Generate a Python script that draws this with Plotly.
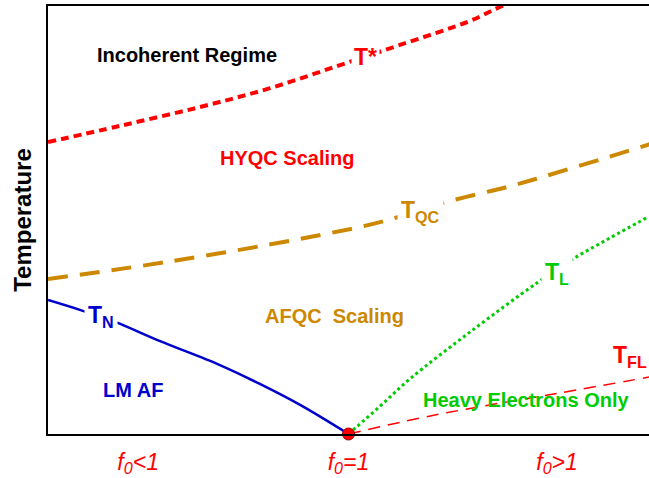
import plotly.graph_objects as go

# ---- data (x: 0..2 with f0=1 at x=1; y: temperature 0..100) ----
tstar_x = [0.0, 0.240, 0.506, 0.739, 0.972, 1.171, 1.404, 1.504, 1.604]
tstar_y = [68.2, 72.0, 76.4, 80.8, 86.2, 90.9, 96.5, 99.8, 102.8]

tqc_x = [0.0, 0.396, 0.839, 1.105, 1.314, 1.527, 1.614, 1.993, 2.037]
tqc_y = [36.2, 40.2, 45.6, 49.5, 54.0, 57.7, 59.4, 67.5, 68.5]

tn_x = [0.0, 0.106, 0.223, 0.373, 0.572, 0.705, 0.839, 1.0]
tn_y = [31.3, 29.0, 26.2, 21.7, 16.1, 11.7, 6.8, 0.0]

tl_x = [1.0, 1.105, 1.205, 1.404, 1.627, 1.747, 1.870, 1.997]
tl_y = [0.0, 6.5, 12.9, 23.8, 35.3, 40.9, 45.8, 50.7]

tfl_x = [1.0, 1.236, 1.414, 1.704, 2.0]
tfl_y = [0.0, 3.7, 6.1, 9.6, 13.3]

qcp_x = [1.0]
qcp_y = [0.0]

tick_vals = [0.3, 1.0, 1.694]
tick_text = ["f<sub>0</sub><1", "f<sub>0</sub>=1", "f<sub>0</sub>>1"]

RED = "#FF0000"
GOLD = "#CC8800"
BLUE = "#0000CC"
GREEN = "#00CC00"
FONT = "Liberation Sans, Arial, sans-serif"

fig = go.Figure()
fig.add_trace(go.Scatter(x=tstar_x, y=tstar_y, mode="lines",
                         line=dict(color=RED, width=4, dash="8px,5px", shape="spline"),
                         hoverinfo="skip"))
fig.add_trace(go.Scatter(x=tqc_x, y=tqc_y, mode="lines",
                         line=dict(color=GOLD, width=4, dash="20px,12px", shape="spline"),
                         hoverinfo="skip"))
fig.add_trace(go.Scatter(x=tn_x, y=tn_y, mode="lines",
                         line=dict(color=BLUE, width=2.5, shape="spline"), hoverinfo="skip"))
fig.add_trace(go.Scatter(x=tl_x, y=tl_y, mode="lines",
                         line=dict(color=GREEN, width=3, dash="3px,3px", shape="spline"),
                         hoverinfo="skip"))
fig.add_trace(go.Scatter(x=tfl_x, y=tfl_y, mode="lines",
                         line=dict(color=RED, width=1.5, dash="12px,8px", shape="spline"),
                         hoverinfo="skip"))
fig.add_trace(go.Scatter(x=qcp_x, y=qcp_y, mode="markers", cliponaxis=False,
                         marker=dict(color=RED, size=12, line=dict(color="#990000", width=1)),
                         hoverinfo="skip"))


def label(text, x, y, color, bg=None, pad=0, size=20):
    fig.add_annotation(x=x, y=y, text="<b>" + text + "</b>", showarrow=False,
                       font=dict(family=FONT, size=size, color=color),
                       bgcolor=bg, borderpad=pad, xanchor="center", yanchor="middle")


label("Incoherent Regime", 0.463, 88.6, "black")
label("T*", 1.055, 88.1, RED, "white", 2, 23)
label("HYQC Scaling", 0.795, 64.5, RED)
label("T<sub>QC</sub>", 1.238, 52.0, GOLD, "white", 3, 23)
label("T<sub>L</sub>", 1.694, 37.4, GREEN, "white", 3, 23)
label("AFQC\u00a0 Scaling", 0.955, 27.6, GOLD)
label("T<sub>N</sub>", 0.175, 27.4, BLUE, "white", 3, 23)
label("LM AF", 0.283, 10.3, BLUE)
label("T<sub>FL</sub>", 1.937, 18.0, RED, None, 0, 23)
label("Heavy Electrons Only", 1.591, 7.9, GREEN)

fig.update_layout(
    width=649, height=478,
    margin=dict(l=48, r=0, t=6, b=44),
    plot_bgcolor="white", paper_bgcolor="white",
    showlegend=False,
    xaxis=dict(range=[0, 2], showgrid=False, zeroline=False,
               showline=True, mirror=True, linecolor="black", linewidth=2,
               tickmode="array", tickvals=tick_vals, ticktext=tick_text, ticks="",
               ticklabelstandoff=6,
               tickfont=dict(family=FONT, size=23, color=RED, style="italic")),
    yaxis=dict(range=[0, 100], showgrid=False, zeroline=False,
               showline=True, linecolor="black", linewidth=2,
               showticklabels=False, ticks="",
               title=dict(text="<b>Temperature</b>", standoff=8,
                          font=dict(family=FONT, size=24, color="black"))),
)

fig.write_html("out.html")
